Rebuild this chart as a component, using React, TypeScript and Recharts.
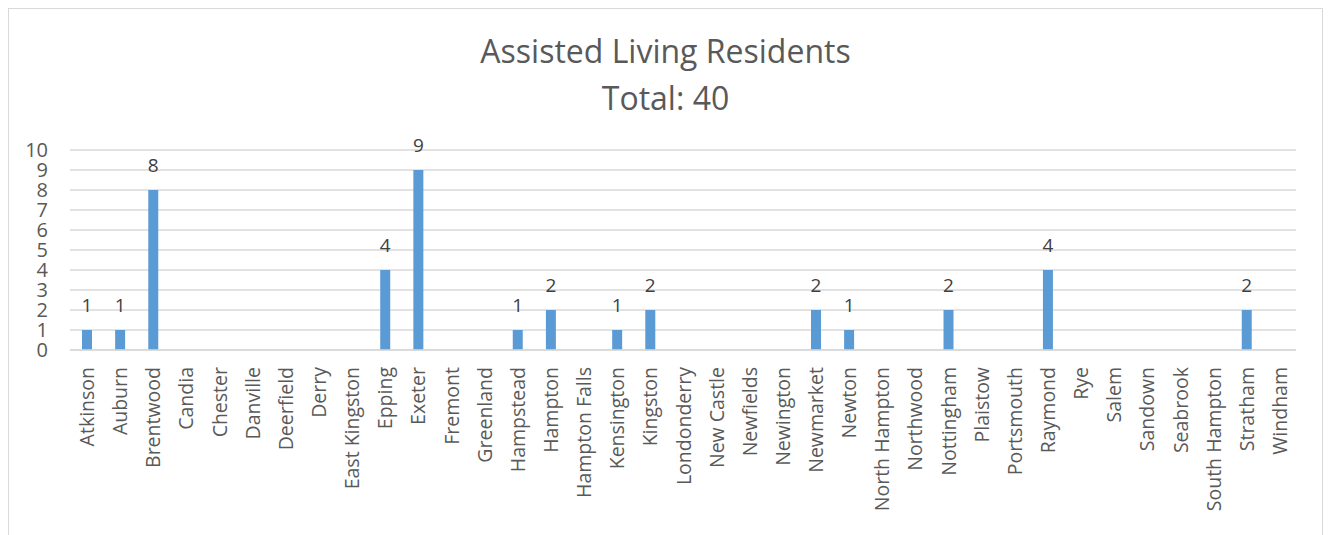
import React from 'react';
import { BarChart, Bar, XAxis, YAxis, CartesianGrid, LabelList } from 'recharts';

const towns: string[] = [
  'Atkinson', 'Auburn', 'Brentwood', 'Candia', 'Chester', 'Danville', 'Deerfield', 'Derry',
  'East Kingston', 'Epping', 'Exeter', 'Fremont', 'Greenland', 'Hampstead', 'Hampton',
  'Hampton Falls', 'Kensington', 'Kingston', 'Londonderry', 'New Castle', 'Newfields',
  'Newington', 'Newmarket', 'Newton', 'North Hampton', 'Northwood', 'Nottingham', 'Plaistow',
  'Portsmouth', 'Raymond', 'Rye', 'Salem', 'Sandown', 'Seabrook', 'South Hampton', 'Stratham',
  'Windham',
];

const residents: number[] = [
  1, 1, 8, 0, 0, 0, 0, 0,
  0, 4, 9, 0, 0, 1, 2,
  0, 1, 2, 0, 0, 0,
  0, 2, 1, 0, 0, 2, 0,
  0, 4, 0, 0, 0, 0, 0, 2,
  0,
];

const yTicks: number[] = [0, 1, 2, 3, 4, 5, 6, 7, 8, 9, 10];

const data = towns.map((town, i) => ({ town, residents: residents[i] }));

const FONT = "'Open Sans', 'Noto Sans', sans-serif";

// zero values get no label, like the original
const renderValue = (props: any) => {
  const { x, y, width, value } = props;
  if (!value) return null;
  return (
    <text x={x + width / 2} y={y - 18} textAnchor="middle" fill="#404040" fontSize={19} fontFamily={FONT}>
      {value}
    </text>
  );
};

const TownTick = (props: any) => {
  const { x, y, payload } = props;
  return (
    <text
      x={x}
      y={y}
      transform={`rotate(-90, ${x}, ${y})`}
      textAnchor="end"
      dominantBaseline="central"
      fill="#595959"
      fontSize={19.5}
      fontFamily={FONT}
    >
      {payload.value}
    </text>
  );
};

export default function App() {
  return (
    <div
      style={{
        position: 'relative',
        width: 1313,
        height: 530,
        border: '1px solid #d9d9d9',
        fontFamily: FONT,
        background: '#fff',
      }}
    >
      <div
        style={{
          position: 'absolute',
          top: 18,
          left: 0,
          width: '100%',
          textAlign: 'center',
          color: '#595959',
          fontSize: 32,
          lineHeight: '47px',
        }}
      >
        <div>Assisted Living Residents</div>
        <div>Total: 40</div>
      </div>
      <BarChart
        width={1313}
        height={530}
        data={data}
        margin={{ top: 141, right: 26, bottom: 0, left: 0 }}
      >
        <CartesianGrid vertical={false} stroke="#d9d9d9" strokeWidth={1.5} />
        <XAxis
          dataKey="town"
          interval={0}
          axisLine={{ stroke: '#d9d9d9', strokeWidth: 1.5 }}
          tickLine={false}
          tick={<TownTick />}
          tickSize={0}
          tickMargin={17}
          height={189}
        />
        <YAxis
          domain={[0, 10]}
          ticks={yTicks}
          interval={0}
          axisLine={false}
          tickLine={false}
          tickSize={0}
          tickMargin={22}
          width={61}
          tick={{ fill: '#595959', fontSize: 20, fontFamily: FONT }}
        />
        <Bar dataKey="residents" fill="#5b9bd5" barSize={10} isAnimationActive={false}>
          <LabelList dataKey="residents" content={renderValue} />
        </Bar>
      </BarChart>
    </div>
  );
}
